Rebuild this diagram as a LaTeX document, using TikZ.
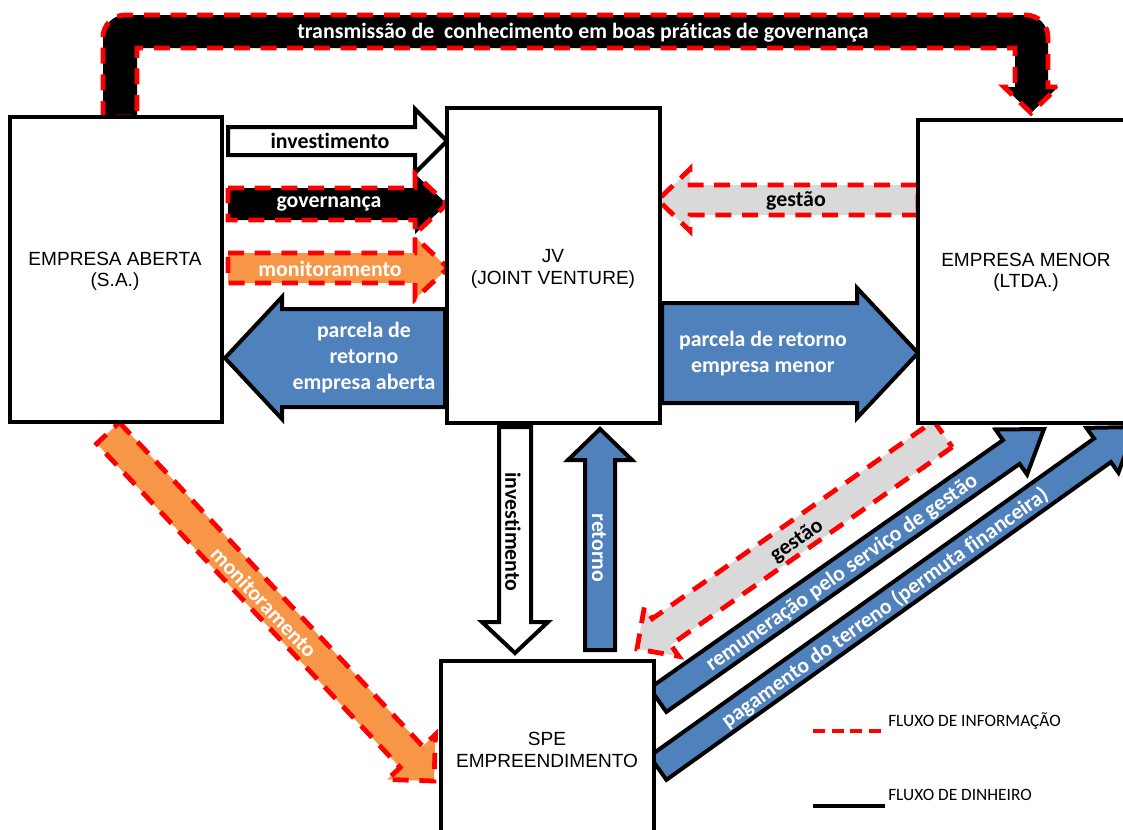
\documentclass[tikz,border=0pt]{standalone}
\usepackage{fontspec}
\setmainfont{Liberation Sans}
\newfontfamily\calibri[Ligatures={NoCommon,NoRare,NoContextual}]{Carlito}
\usetikzlibrary{calc}
\definecolor{oblue}{HTML}{4F81BD}
\definecolor{oorange}{HTML}{F79646}
\definecolor{ogray}{HTML}{D9D9D9}
\definecolor{ored}{HTML}{FF0000}
% #1 style, #2 tail (x,y in px), #3 tip, #4 shaft half width, #5 head half width, #6 head length (px)
\newcommand{\blockarrow}[6]{%
  \path (#2) coordinate (bT) (#3) coordinate (bP);
  \path ($(bP)!#6*0.75pt!(bT)$) coordinate (bB);
  \draw[#1] ($(bT)!#4*0.75pt!90:(bP)$) -- ($(bB)!#4*0.75pt!-90:(bT)$)
     -- ($(bB)!#5*0.75pt!-90:(bT)$) -- (bP) -- ($(bB)!#5*0.75pt!90:(bT)$)
     -- ($(bB)!#4*0.75pt!90:(bT)$) -- ($(bT)!#4*0.75pt!-90:(bP)$) -- cycle;
}
\begin{document}
\begin{tikzpicture}[x=0.75pt,y=-0.75pt,
  info/.style={fill=#1, draw=ored, line width=3.6pt, dash pattern=on 12pt off 8pt, line join=miter},
  money/.style={fill=#1, draw=black, line width=3pt, line join=miter},
  box/.style={draw=black, line width=2.6pt, fill=white, rectangle, inner sep=0pt},
  boxtext/.style={font=\fontsize{14.3}{16}\selectfont, align=center, inner sep=0pt},
  lbl/.style={font=\calibri\bfseries\fontsize{16.4}{19.5}\selectfont, align=center, inner sep=0pt},
  legtext/.style={font=\calibri\fontsize{13}{15}\selectfont, anchor=base west, inner sep=0pt}]
\useasboundingbox (0,0) rectangle (1123,829);
\clip (0,0) rectangle (1123,829);

% top bent arrow
\draw[info=black] (103,117) -- (103,37) .. controls (103,25) and (113,15) .. (125,15)
  -- (1026,15) .. controls (1038,15) and (1048,25) .. (1048,37)
  -- (1048,87) -- (1058,87) -- (1031,113) -- (1004,87) -- (1015,87)
  -- (1015,48) -- (137,48) -- (137,117) -- cycle;

% horizontal arrows left
\blockarrow{money=white}{228,141}{447,141}{14}{32}{32}
\blockarrow{info=black}{228,204}{447,204}{16}{30}{32}
\blockarrow{info=oorange}{228,268}{448,268}{15}{31}{33}
\blockarrow{money=oblue}{445,358}{225,358}{49}{61}{57}
% right side
\blockarrow{money=oblue}{662,353}{918,353}{50}{65}{61}
\blockarrow{info=ogray}{918,200}{658,200}{15}{31}{32}
% vertical
\blockarrow{money=white}{515,427}{515,653}{16}{33}{31}
\blockarrow{money=oblue}{600,650}{600,429}{15}{32}{31}
% diagonals
\blockarrow{info=oorange}{108,433}{434,781}{15.5}{33}{33}
\blockarrow{info=ogray}{943,434}{637,649}{16}{30}{30}
\blockarrow{money=oblue}{658,700}{1044,429}{14.5}{27.5}{40}
\blockarrow{money=oblue}{658,768}{1135,427}{14.5}{27.5}{40}

% boxes
\node[box, minimum width=159pt, minimum height=228.75pt] (ea) at (116,269.5) {};
\node[box, minimum width=159.75pt, minimum height=236.25pt] (jv) at (553.5,265.5) {};
\node[box, minimum width=166.5pt, minimum height=227.25pt] (em) at (1029,271.5) {};
\node[box, minimum width=160pt, minimum height=150pt] (spe) at (547.5,761) {};

\node[boxtext] (tea) at (115,271) {EMPRESA ABERTA\\(S.A.)};
\node[boxtext] (tjv) at (553,269) {JV\\(JOINT VENTURE)};
\node[boxtext] (tem) at (1026,272) {EMPRESA MENOR\\(LTDA.)};
\node[boxtext] (tspe) at (547,750) {SPE\\EMPREENDIMENTO};

% labels
\node[lbl, text=white] (ltop) at (583,33) {transmissão de\ \ conhecimento em boas práticas de governança};
\node[lbl] (linv) at (330,141) {investimento};
\node[lbl, text=white] (lgov) at (329,204) {governança};
\node[lbl, text=white] (lmon) at (330,269) {monitoramento};
\node[lbl, text=white] (lpa) at (364,358) {parcela de\\retorno\\empresa aberta};
\node[lbl, text=white] (lpm) at (763,354) {parcela de retorno\\empresa menor};
\node[lbl] (lges) at (796,201) {gestão};
\node[lbl, rotate=-90] (linv2) at (513,532) {investimento};
\node[lbl, text=white, rotate=-90] (lret) at (599,548) {retorno};
\node[lbl, text=white, rotate=-46.7] (lmon2) at (264,602) {monitoramento};
\node[lbl, rotate=35.2] (lges2) at (797,541) {gestão};
\node[lbl, text=white, rotate=35.1] (lrem) at (842,573) {remuneração pelo serviço de gestão};
\node[lbl, text=white, rotate=35.6] (lpag) at (885,608) {pagamento do terreno (permuta financeira)};

% legend
\coordinate (l1a) at (813,731); \coordinate (l1b) at (885,731);
\coordinate (l2a) at (813,806); \coordinate (l2b) at (885,806);
\draw[ored, line width=2.4pt, dash pattern=on 9pt off 5pt] (l1a) -- (l1b);
\draw[black, line width=3pt] (l2a) -- (l2b);
\node[legtext] (lt1) at (888,726) {FLUXO DE INFORMAÇÃO};
\node[legtext] (lt2) at (888,800) {FLUXO DE DINHEIRO};
\end{tikzpicture}
\end{document}
